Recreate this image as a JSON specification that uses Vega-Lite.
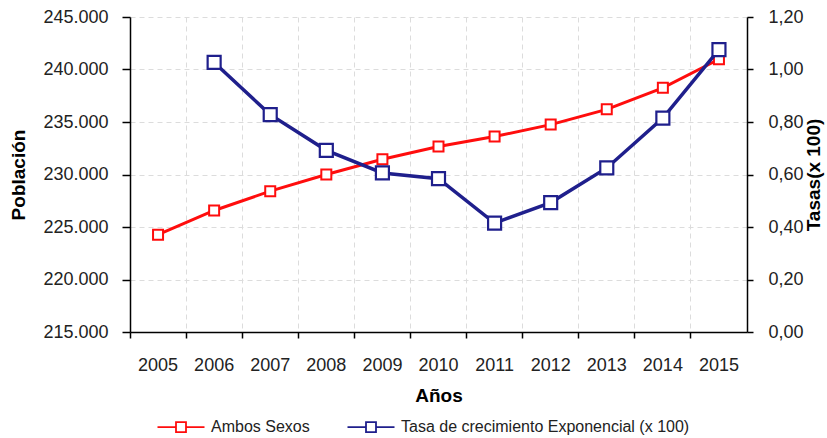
{
  "$schema": "https://vega.github.io/schema/vega-lite/v6.json",
  "width": 617,
  "height": 315,
  "autosize": {"type": "none"},
  "padding": {"left": 130, "top": 17, "right": 80, "bottom": 106},
  "config": {
    "locale": {"number": {"decimal": ",", "thousands": ".", "grouping": [3], "currency": ["", " €"]}},
    "font": "Liberation Sans",
    "view": {"stroke": null},
    "axis": {
      "labelFont": "Liberation Sans", "labelFontSize": 18, "labelColor": "#222",
      "titleFont": "Liberation Sans", "titleFontSize": 19, "titleFontWeight": "bold", "titleColor": "#000",
      "domainColor": "#000", "domainWidth": 1.5, "tickColor": "#000", "tickWidth": 1.5,
      "gridColor": "#dcdcdc", "gridDash": [5, 4], "gridWidth": 1
    }
  },
  "data": {"values": [
    {"anio": "2005", "poblacion": 224270, "tasa": null},
    {"anio": "2006", "poblacion": 226575, "tasa": 1.027},
    {"anio": "2007", "poblacion": 228415, "tasa": 0.828},
    {"anio": "2008", "poblacion": 230000, "tasa": 0.692},
    {"anio": "2009", "poblacion": 231452, "tasa": 0.606},
    {"anio": "2010", "poblacion": 232665, "tasa": 0.584},
    {"anio": "2011", "poblacion": 233614, "tasa": 0.415},
    {"anio": "2012", "poblacion": 234753, "tasa": 0.493},
    {"anio": "2013", "poblacion": 236205, "tasa": 0.625},
    {"anio": "2014", "poblacion": 238254, "tasa": 0.815},
    {"anio": "2015", "poblacion": 240977, "tasa": 1.076}
  ]},
  "encoding": {
    "x": {
      "field": "anio", "type": "ordinal",
      "scale": {"type": "band", "paddingInner": 0, "paddingOuter": 0},
      "axis": {"title": "Años", "labelAngle": 0, "bandPosition": 0, "tickSize": 6, "labelPadding": 18, "titlePadding": 12, "grid": true}
    }
  },
  "layer": [
    {
      "encoding": {
        "y": {
          "field": "poblacion", "type": "quantitative",
          "scale": {"domain": [215000, 245000], "nice": false, "zero": false},
          "axis": {"title": "Población", "format": ",.0f", "values": [215000, 220000, 225000, 230000, 235000, 240000, 245000], "tickSize": 8, "labelPadding": 14, "titlePadding": 14, "grid": true}
        },
        "color": {
          "datum": "Ambos Sexos", "type": "nominal",
          "scale": {"domain": ["Ambos Sexos", "Tasa de crecimiento Exponencial (x 100)"], "range": ["#ff0d0d", "#1f1f8c"]},
          "legend": {
            "orient": "none", "legendX": 43, "legendY": 402, "direction": "horizontal", "title": null,
            "symbolType": "M-4.7,0L-1,0M1,0L4.7,0M-1,-1L1,-1L1,1L-1,1Z",
            "symbolSize": 100, "symbolStrokeWidth": 1.8, "symbolFillColor": "white",
            "labelFontSize": 16, "labelColor": "#222", "labelFont": "Liberation Sans", "labelLimit": 500,
            "columnPadding": 33, "labelOffset": 22
          }
        }
      },
      "layer": [
        {"mark": {"type": "line", "strokeWidth": 3}},
        {"mark": {"type": "point", "shape": "square", "filled": false, "fill": "white", "size": 100, "strokeWidth": 2, "opacity": 1}}
      ]
    },
    {
      "transform": [{"filter": "datum.tasa != null"}],
      "encoding": {
        "y": {
          "field": "tasa", "type": "quantitative",
          "scale": {"domain": [0, 1.2], "nice": false},
          "axis": {"orient": "right", "title": "Tasas(x 100)", "format": ".2f", "values": [0, 0.2, 0.4, 0.6, 0.8, 1.0, 1.2], "tickSize": 6, "labelPadding": 15, "titlePadding": 20, "titleAngle": 270, "grid": false}
        },
        "color": {"datum": "Tasa de crecimiento Exponencial (x 100)", "type": "nominal"}
      },
      "layer": [
        {"mark": {"type": "line", "strokeWidth": 3.5}},
        {"mark": {"type": "point", "shape": "square", "filled": false, "fill": "white", "size": 169, "strokeWidth": 2.2, "opacity": 1}}
      ]
    }
  ],
  "resolve": {"scale": {"y": "independent"}}
}
